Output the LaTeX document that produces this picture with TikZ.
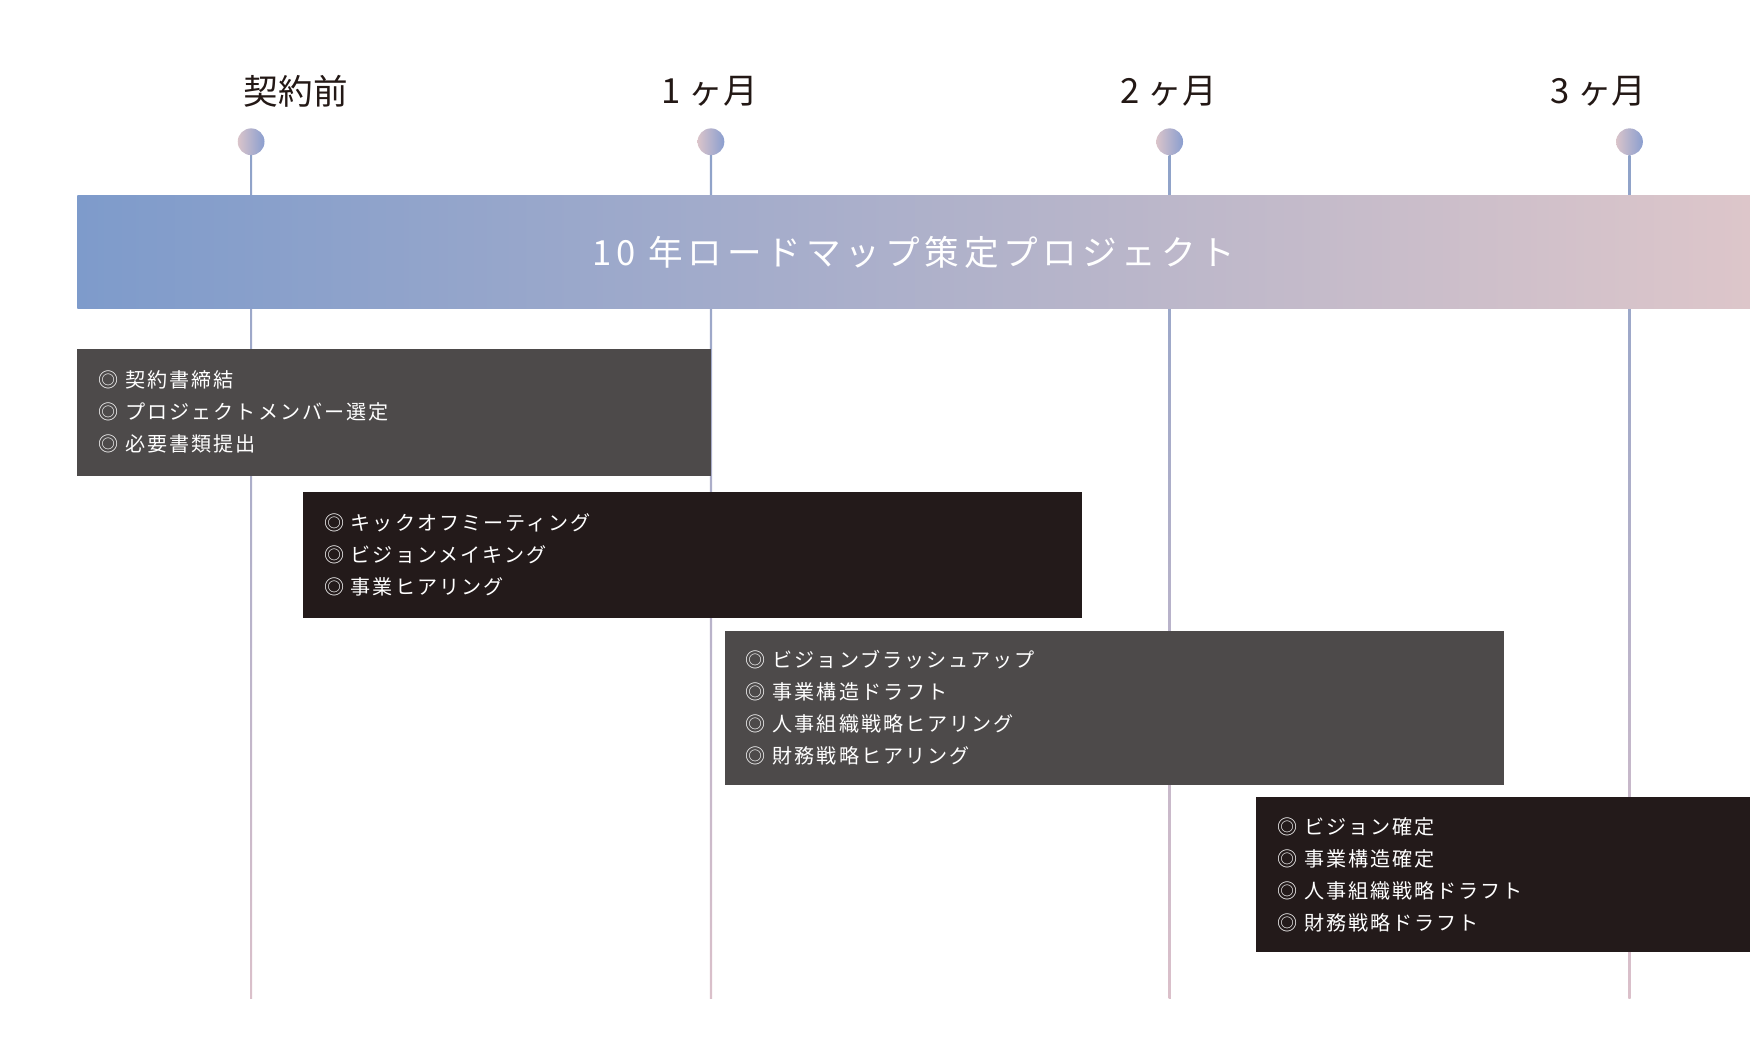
\documentclass[tikz,border=0pt]{standalone}
\usepackage{fontspec}
\setmainfont{Noto Sans CJK JP}
\newfontfamily\headfont{Noto Sans CJK JP}
\newfontfamily\titlefont[LetterSpace=14]{Noto Sans CJK JP}
\newfontfamily\itemfont[LetterSpace=10]{Noto Sans CJK JP}

\definecolor{labelink}{HTML}{231815}
\definecolor{pinpink}{HTML}{DAC4CA}
\definecolor{pinblue}{HTML}{8A9ECF}
\definecolor{lineblue}{HTML}{8EA2C9}
\definecolor{linepink}{HTML}{DBC0CA}
\definecolor{bandblue}{HTML}{7E9BCB}
\definecolor{bandmid}{HTML}{B2AFCB}
\definecolor{bandpink}{HTML}{DDC6CA}
\definecolor{boxgrey}{HTML}{4D4A4A}
\definecolor{boxdark}{HTML}{231A1A}

\begin{document}
\begin{tikzpicture}[x=0.5pt,y=-0.5pt,
  month/.style={text=labelink, font=\headfont\fontsize{15.5pt}{18pt}\selectfont},
  pin/.style={circle, inner sep=0pt, minimum size=12pt, left color=pinpink, right color=pinblue},
  band/.style={anchor=north west, inner sep=0pt, minimum width=749.5pt, minimum height=50.5pt,
    left color=bandblue, middle color=bandmid, right color=bandpink,
    text=white, font=\titlefont\fontsize{15.5pt}{18pt}\selectfont},
  phase/.style={anchor=north west, text=white, align=left, inner xsep=9.5pt, inner ysep=0pt,
    font=\itemfont\fontsize{9pt}{14.35pt}\selectfont}
]
\useasboundingbox (0,0) rectangle (1568,950);

% Month labels
\node[month] (m0) at (265,82) {契約前};
\node[month] (m1) at (636,82) {1 ヶ月};
\node[month] (m2) at (1047,82) {2 ヶ月};
\node[month] (m3) at (1432,82) {3 ヶ月};

% Pins
\node[pin] (dot0) at (225,127) {};
\node[pin] (dot1) at (637,127) {};
\node[pin] (dot2) at (1048,127) {};
\node[pin] (dot3) at (1460,127) {};

% Timelines
\coordinate (end0) at (225,895);
\coordinate (end1) at (637,895);
\coordinate (end2) at (1048,895);
\coordinate (end3) at (1460,895);
\shade[top color=lineblue, bottom color=linepink] ([xshift=-0.5pt]dot0.south) rectangle ([xshift=0.5pt]end0);
\shade[top color=lineblue, bottom color=linepink] ([xshift=-0.5pt]dot1.south) rectangle ([xshift=0.5pt]end1);
\shade[top color=lineblue, bottom color=linepink] ([xshift=-0.5pt]dot2.south) rectangle ([xshift=0.5pt]end2);
\shade[top color=lineblue, bottom color=linepink] ([xshift=-0.5pt]dot3.south) rectangle ([xshift=0.5pt]end3);

% Project band
\node[band] (project) at (69,175) {10 年ロードマップ策定プロジェクト};

% Phases
\node[phase, fill=boxgrey, minimum height=57pt, text width=265pt] (contract) at (69,312)
  {◎ 契約書締結\\◎ プロジェクトメンバー選定\\◎ 必要書類提出};
\node[phase, fill=boxdark, minimum height=56.5pt, text width=330pt] (kickoff) at (271,440)
  {◎ キックオフミーティング\\◎ ビジョンメイキング\\◎ 事業ヒアリング};
\node[phase, fill=boxgrey, minimum height=69pt, text width=330pt] (draft) at (649,565)
  {◎ ビジョンブラッシュアップ\\◎ 事業構造ドラフト\\◎ 人事組織戦略ヒアリング\\◎ 財務戦略ヒアリング};
\node[phase, fill=boxdark, minimum height=69.5pt, text width=202.5pt] (fix) at (1125,714)
  {◎ ビジョン確定\\◎ 事業構造確定\\◎ 人事組織戦略ドラフト\\◎ 財務戦略ドラフト};
\end{tikzpicture}
\end{document}
